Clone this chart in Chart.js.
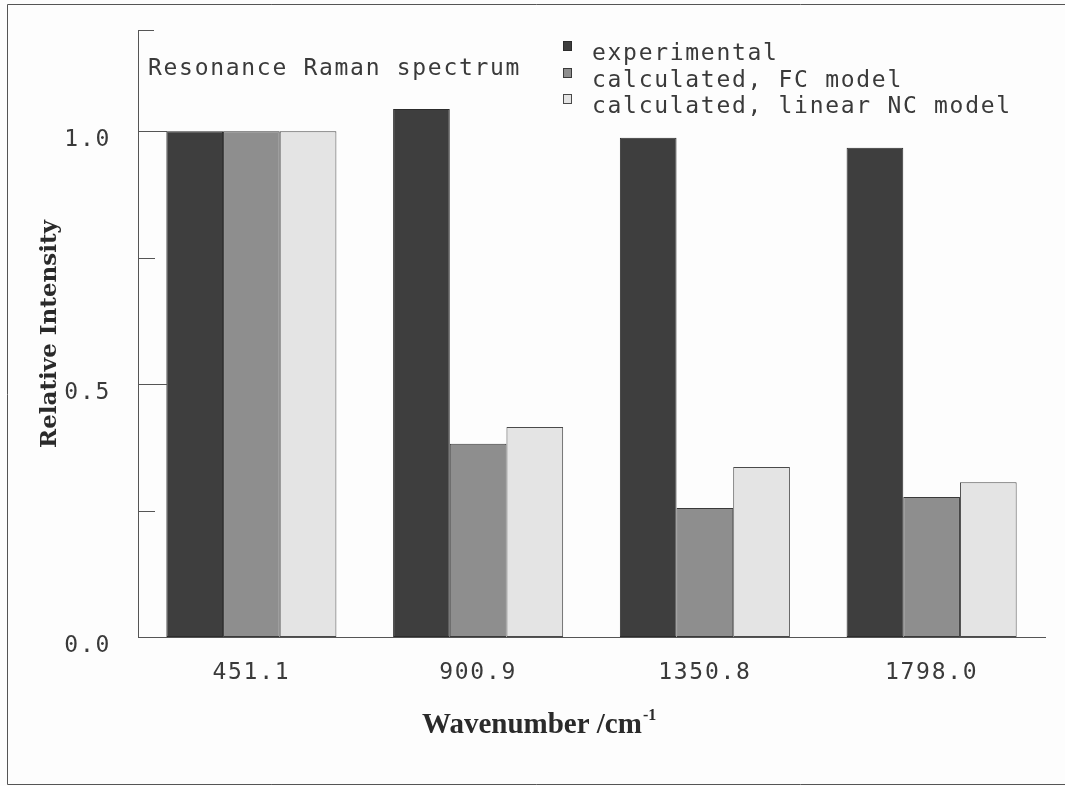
<!DOCTYPE html>
<html>
<head>
<meta charset="utf-8">
<script src="https://cdn.jsdelivr.net/npm/chart.js@4/dist/chart.umd.min.js"></script>
<style>
  html, body { margin: 0; padding: 0; background: #fdfdfd; }
  canvas { display: block; }
</style>
</head>
<body>
<canvas id="chart" width="1065" height="786"></canvas>
<script>
// Raman band positions (cm-1) and relative intensities
const wavenumbers = ['451.1', '900.9', '1350.8', '1798.0'];
const experimental = [1.0, 1.044, 0.987, 0.967];
const fcModel = [1.0, 0.382, 0.255, 0.277];
const linearNcModel = [1.0, 0.415, 0.336, 0.306];
const seriesNames = ['experimental', 'calculated, FC model', 'calculated, linear NC model'];

const yTickValues = [0, 0.5, 1.0];
const yTickLabels = ['0.0', '0.5', '1.0'];
const yMinorTicks = [0.25, 0.75];
const yMajorTicks = [0.5, 1.0];
const yMax = 1.2;

const plotTitle = 'Resonance Raman spectrum';
const yTitle = 'Relative Intensity';
const xTitle = 'Wavenumber /cm';
const xTitleSup = '-1';

const MONO = '"DejaVu Sans Mono", monospace';
const MONO_SIZE = 23;
const TEXT = '#3a3a3a';
const SPACING = '1.7px';

// wide, plotter-like lettering for all the monospaced text
const spacingPlugin = {
  id: 'spacing',
  beforeUpdate(chart) { chart.ctx.letterSpacing = SPACING; },
  beforeLayout(chart) { chart.ctx.letterSpacing = SPACING; },
  beforeDraw(chart) { chart.ctx.letterSpacing = SPACING; }
};

const decorPlugin = {
  id: 'decor',
  afterDraw(chart) {
    const ctx = chart.ctx;
    const y = chart.scales.y;
    const left = chart.chartArea.left;
    ctx.save();

    // inward tick marks on the value axis
    ctx.strokeStyle = '#555';
    ctx.lineWidth = 1;
    const tick = (v, len) => {
      const py = Math.round(y.getPixelForValue(v)) + 0.5;
      ctx.beginPath();
      ctx.moveTo(left, py);
      ctx.lineTo(left + len, py);
      ctx.stroke();
    };
    yMinorTicks.forEach(v => tick(v, 17));
    yMajorTicks.forEach(v => tick(v, 29));
    tick(yMax, 16);

    // outer frame
    ctx.beginPath();
    ctx.moveTo(1065, 4.5); ctx.lineTo(7.5, 4.5); ctx.lineTo(7.5, 784.5); ctx.lineTo(1065, 784.5);
    ctx.stroke();

    // plot title
    ctx.letterSpacing = SPACING;
    ctx.font = MONO_SIZE + 'px ' + MONO;
    ctx.fillStyle = TEXT;
    ctx.textAlign = 'left';
    ctx.textBaseline = 'alphabetic';
    ctx.fillText(plotTitle, 148, 75);

    // legend
    chart.data.datasets.forEach((ds, i) => {
      const base = 60 + i * 26.5;
      const top = Math.round(base - 19);
      ctx.fillStyle = ds.backgroundColor;
      ctx.fillRect(563, top, 9, 10);
      ctx.strokeStyle = ds.borderColor;
      ctx.strokeRect(563.5, top + 0.5, 8, 9);
      ctx.fillStyle = TEXT;
      ctx.fillText(ds.label, 592, base);
    });

    // axis titles
    ctx.letterSpacing = '0px';
    ctx.fillStyle = '#2a2a2a';
    ctx.save();
    ctx.font = 'bold 23px "DejaVu Serif", serif';
    ctx.translate(56, 334);
    ctx.rotate(-Math.PI / 2);
    ctx.textAlign = 'center';
    ctx.textBaseline = 'alphabetic';
    ctx.fillText(yTitle, 0, 0);
    ctx.restore();

    ctx.font = 'bold 29px "Liberation Serif", serif';
    ctx.textAlign = 'left';
    ctx.textBaseline = 'alphabetic';
    ctx.fillText(xTitle, 422, 733);
    const w = ctx.measureText(xTitle).width;
    ctx.font = 'bold 16px "Liberation Serif", serif';
    ctx.fillText(xTitleSup, 422 + w + 1, 720);

    ctx.restore();
  }
};

new Chart(document.getElementById('chart'), {
  type: 'bar',
  data: {
    labels: wavenumbers,
    datasets: [
      { label: seriesNames[0], data: experimental, backgroundColor: '#3e3e3e', borderColor: '#2c2c2c' },
      { label: seriesNames[1], data: fcModel, backgroundColor: '#8e8e8e', borderColor: '#3a3a3a' },
      { label: seriesNames[2], data: linearNcModel, backgroundColor: '#e4e4e4', borderColor: '#4a4a4a' }
    ]
  },
  options: {
    responsive: false,
    animation: false,
    devicePixelRatio: 1,
    layout: { padding: { left: 0, top: 30, right: 20, bottom: 0 } },
    datasets: {
      bar: { categoryPercentage: 0.75, barPercentage: 1.0, borderWidth: 1, borderSkipped: false }
    },
    plugins: {
      legend: { display: false },
      tooltip: { enabled: false },
      title: { display: false }
    },
    scales: {
      x: {
        grid: { display: false, drawTicks: false },
        border: { display: true, color: '#555', width: 1 },
        ticks: { font: { family: MONO, size: MONO_SIZE }, color: TEXT, padding: 22, maxRotation: 0, autoSkip: false },
        afterFit(s) { s.height = 149; s.paddingLeft = 0; s.paddingRight = 0; }
      },
      y: {
        min: 0,
        max: yMax,
        grid: { display: false, drawTicks: false },
        border: { display: true, color: '#555', width: 1 },
        afterBuildTicks(s) { s.ticks = yTickValues.map(v => ({ value: v })); },
        ticks: {
          callback: (v, i) => yTickLabels[i],
          font: { family: MONO, size: MONO_SIZE },
          color: TEXT,
          padding: 27,
          labelOffset: 9
        },
        afterFit(s) { s.width = 138; s.paddingTop = 0; s.paddingBottom = 0; }
      }
    }
  },
  plugins: [spacingPlugin, decorPlugin]
});
</script>
</body>
</html>
